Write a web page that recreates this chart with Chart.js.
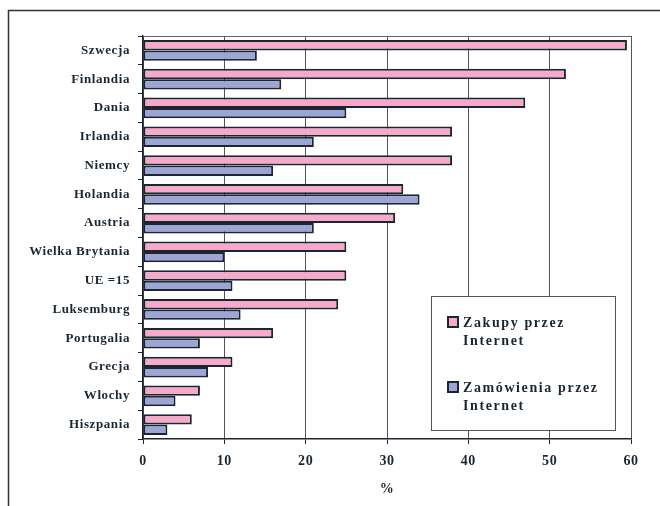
<!DOCTYPE html>
<html>
<head>
<meta charset="utf-8">
<script src="https://cdn.jsdelivr.net/npm/chart.js@4/dist/chart.umd.min.js"></script>
<style>
  html, body { margin: 0; padding: 0; background: #fff; }
  #wrap { width: 660px; height: 506px; position: relative; }
</style>
</head>
<body>
<div id="wrap"><canvas id="internetChart"></canvas></div>
<script>
var countries = ['Szwecja', 'Finlandia', 'Dania', 'Irlandia', 'Niemcy', 'Holandia', 'Austria',
    'Wielka Brytania', 'UE =15', 'Luksemburg', 'Portugalia', 'Grecja', 'Wlochy', 'Hiszpania'];
var zakupy = [59.5, 52, 47, 38, 38, 32, 31, 25, 25, 24, 16, 11, 7, 6];
var zamowienia = [14, 17, 25, 21, 16, 34, 21, 10, 11, 12, 7, 8, 4, 3];
var xTicks = [0, 10, 20, 30, 40, 50, 60];

var ink = '#1b2730';
var serif = "'Liberation Serif', 'Times New Roman', serif";

/* outer frame, plot border and the boxed legend */
var framePlugin = {
    id: 'frame',
    beforeDraw: function(chart) {
        chart.ctx.letterSpacing = '0.6px';
    },
    afterDraw: function(chart) {
        var ctx = chart.ctx, a = chart.chartArea;
        ctx.save();
        ctx.strokeStyle = '#333';
        ctx.lineWidth = 1.5;
        ctx.beginPath();
        ctx.moveTo(8.5, 506); ctx.lineTo(8.5, 10.5); ctx.lineTo(660, 10.5);
        ctx.stroke();
        ctx.strokeStyle = '#666';
        ctx.lineWidth = 1;
        ctx.beginPath();
        ctx.moveTo(a.left, a.top + 0.5); ctx.lineTo(a.right, a.top + 0.5);
        ctx.stroke();

        // legend box
        var bx = 431.5, by = 296.5, bw = 184, bh = 134;
        ctx.fillStyle = '#fff';
        ctx.fillRect(bx, by, bw, bh);
        ctx.strokeStyle = '#555';
        ctx.strokeRect(bx, by, bw, bh);
        ctx.font = 'bold 14px ' + serif;
        ctx.letterSpacing = '1.6px';
        ctx.textBaseline = 'alphabetic';
        chart.data.datasets.forEach(function(ds, i) {
            var y0 = 327 + i * 65;
            ctx.fillStyle = ds.backgroundColor;
            ctx.fillRect(448, y0 - 10, 10, 10);
            ctx.strokeStyle = ink;
            ctx.lineWidth = 2;
            ctx.strokeRect(448, y0 - 10, 10, 10);
            var words = ds.label.split(' ');
            var last = words.pop();
            ctx.fillStyle = ink;
            ctx.fillText(words.join(' '), 463, y0);
            ctx.fillText(last, 463, y0 + 18);
        });
        ctx.restore();
    }
};

new Chart(document.getElementById('internetChart'), {
    type: 'bar',
    data: {
        labels: countries,
        datasets: [{
            label: 'Zakupy przez Internet',
            data: zakupy,
            backgroundColor: '#f6a9c9',
            borderColor: ink,
            borderWidth: 2,
            borderSkipped: false
        }, {
            label: 'Zamówienia przez Internet',
            data: zamowienia,
            backgroundColor: '#9da5d6',
            borderColor: ink,
            borderWidth: 2,
            borderSkipped: false
        }]
    },
    options: {
        indexAxis: 'y',
        responsive: true,
        maintainAspectRatio: false,
        animation: false,
        datasets: { bar: { categoryPercentage: 0.72, barPercentage: 1.0 } },
        layout: { padding: { left: 0, top: 36, right: 29, bottom: 0 } },
        plugins: { legend: { display: false }, tooltip: { enabled: false } },
        scales: {
            x: {
                min: 0, max: 60,
                afterBuildTicks: function(s) { s.ticks = xTicks.map(function(v) { return { value: v }; }); },
                afterFit: function(s) { s.height = 67; },
                grid: { color: '#555', lineWidth: 1, tickLength: 5, tickColor: ink },
                border: { color: ink, width: 1.5 },
                ticks: { color: ink, font: { family: serif, size: 14, weight: 'bold' }, padding: 9 },
                title: {
                    display: true, text: '%', color: ink,
                    font: { family: serif, size: 14, weight: 'bold' },
                    padding: { top: 4, bottom: 8 }
                }
            },
            y: {
                afterFit: function(s) { s.width = 143; },
                grid: { drawOnChartArea: false, tickLength: 5, color: ink, offset: true },
                border: { color: ink, width: 1.5 },
                ticks: { color: ink, font: { family: serif, size: 13, weight: 'bold' }, padding: 8 }
            }
        }
    },
    plugins: [framePlugin]
});
</script>
</body>
</html>
